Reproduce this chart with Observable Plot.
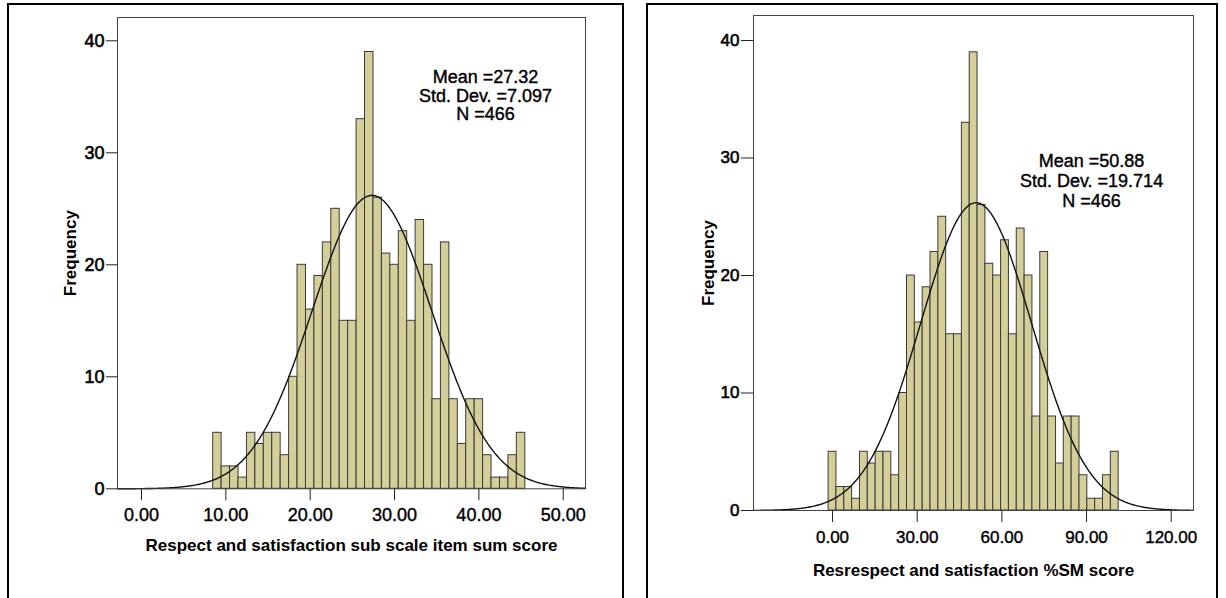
<!DOCTYPE html>
<html>
<head>
<meta charset="utf-8">
<script src="https://cdn.jsdelivr.net/npm/d3@7"></script>
<script src="https://cdn.jsdelivr.net/npm/@observablehq/plot@0.6"></script>
<style>
  html, body { margin: 0; padding: 0; background: #fff; overflow: hidden; }
  #page { position: relative; width: 1226px; height: 598px; overflow: hidden; font-family: "Liberation Sans", Arial, sans-serif; }
  .panel { position: absolute; top: 3px; height: 700px; border: 2px solid #000; box-sizing: border-box; pointer-events: none; z-index: 2; }
  .chart { position: absolute; top: 0; z-index: 1; }
  .chart svg { max-width: none !important; }
</style>
</head>
<body>
<div id="page">
  <div class="panel" style="left:7px; width:617px;"></div>
  <div class="panel" style="left:646px; width:572px;"></div>
  <div class="chart" id="left" style="left:0px;"></div>
  <div class="chart" id="right" style="left:640px;"></div>
</div>
<script>
// ---- Data ----
const sumScores = [9,10,11,12,13,14,15,16,17,18,19,20,21,22,23,24,25,26,27,28,29,30,31,32,33,34,35,36,37,38,39,40,41,42,43,44,45];
const counts    = [5,2,2,1,5,4,5,5,3,10,20,16,19,22,25,15,15,33,39,26,21,20,23,15,24,20,8,22,8,4,8,8,3,1,1,3,5];

const leftStats  = {mean: 27.32, sd: 7.097, n: 466};
const rightStats = {mean: 50.88, sd: 19.714, n: 466};

const leftXTicks  = [0, 10, 20, 30, 40, 50];
const rightXTicks = [0, 30, 60, 90, 120];
const yTicks      = [0, 10, 20, 30, 40];

const leftTitle  = "Respect and satisfaction sub scale item sum score";
const rightTitle = "Resrespect and satisfaction %SM score";

// %SM score = (sum - min) / (max - min) * 100
const minSum = 9, maxSum = 45;
const leftBinWidth = 1;
const rightBinWidth = 100 / (maxSum - minSum);

const leftBins = sumScores.map((s, i) => ({x1: s - leftBinWidth/2, x2: s + leftBinWidth/2, count: counts[i]}));
const rightBins = sumScores.map((s, i) => {
  const c = (s - minSum) / (maxSum - minSum) * 100;
  return {x1: c - rightBinWidth/2, x2: c + rightBinWidth/2, count: counts[i]};
});

function normalCurve(stats, binWidth, domain) {
  const pts = [];
  const steps = 400;
  for (let i = 0; i <= steps; i++) {
    const x = domain[0] + (domain[1] - domain[0]) * i / steps;
    const z = (x - stats.mean) / stats.sd;
    pts.push({x, y: stats.n * binWidth * Math.exp(-0.5 * z * z) / (stats.sd * Math.sqrt(2 * Math.PI))});
  }
  return pts;
}

const FILL = "#d4cf99";
const BAR_STROKE = "#3a3a3a";
const FONT = "'Liberation Sans', Arial, sans-serif";

function histogram(cfg) {
  return Plot.plot({
    width: cfg.width,
    height: 598,
    marginLeft: cfg.ml, marginRight: cfg.mr, marginTop: cfg.mt, marginBottom: cfg.mb,
    style: {fontFamily: FONT, background: "transparent", overflow: "visible", color: "#000"},
    x: {domain: cfg.xDomain},
    y: {domain: cfg.yDomain},
    marks: [
      Plot.rectY(cfg.bins, {x1: "x1", x2: "x2", y: "count", fill: FILL, stroke: BAR_STROKE, strokeWidth: 1}),
      Plot.line(normalCurve(cfg.stats, cfg.binWidth, cfg.xDomain), {x: "x", y: "y", stroke: "#111", strokeWidth: 1.4}),
      Plot.frame({stroke: "#444", strokeWidth: 1}),
      Plot.axisY({ticks: yTicks, tickSize: cfg.yTickSize, tickPadding: 2, fontSize: cfg.yFont, tickFormat: d => String(d), label: null, stroke: "#222", textStroke: "#000", textStrokeWidth: 0.6, textStrokeOpacity: 1}),
      Plot.axisX({ticks: cfg.xTicks, tickSize: 12, tickPadding: cfg.xPad, fontSize: cfg.xFont, tickFormat: d => d.toFixed(2), label: null, stroke: "#222", textStroke: "#000", textStrokeWidth: 0.4, textStrokeOpacity: 1}),
      Plot.text([cfg.title], {frameAnchor: "bottom", text: d => d, dy: cfg.titleDy, lineAnchor: "middle", fontSize: 17, fontWeight: "bold"}),
      Plot.text(["Frequency"], {frameAnchor: "left", text: d => d, rotate: -90, dx: cfg.freqDx, textAnchor: "middle", lineAnchor: "middle", fontSize: 17, fontWeight: "bold"}),
      Plot.text([`Mean =${cfg.stats.mean.toFixed(2)}\nStd. Dev. =${cfg.stats.sd}\nN =${cfg.stats.n}`],
        {frameAnchor: "top-right", text: d => d, dx: cfg.statDx, dy: cfg.statDy, textAnchor: "middle", lineAnchor: "middle", fontSize: 18, lineHeight: cfg.statLH, fill: "#000", stroke: "#000", strokeWidth: 0.4})
    ]
  });
}

document.getElementById("left").appendChild(histogram({
  width: 620, ml: 117, mr: 35, mt: 17, mb: 598 - 488.3,
  xDomain: [-2.846, 52.64], yDomain: [0, 42.08],
  bins: leftBins, stats: leftStats, binWidth: leftBinWidth,
  xTicks: leftXTicks, yTickSize: 11, yFont: 18, xFont: 18, xPad: 7,
  title: leftTitle, titleDy: 545 - 488.3, freqDx: -47,
  statDx: -100, statDy: 95 - 17, statLH: 1.04
}));

document.getElementById("right").appendChild(histogram({
  width: 580, ml: 113, mr: 27, mt: 15, mb: 88,
  xDomain: [-28, 127.9], yDomain: [0, 42.13],
  bins: rightBins, stats: rightStats, binWidth: rightBinWidth,
  xTicks: rightXTicks, yTickSize: 12, yFont: 17, xFont: 17, xPad: 8,
  title: rightTitle, titleDy: 570 - 510, freqDx: -45,
  statDx: -102, statDy: 180 - 15, statLH: 1.1
}));
</script>
</body>
</html>
